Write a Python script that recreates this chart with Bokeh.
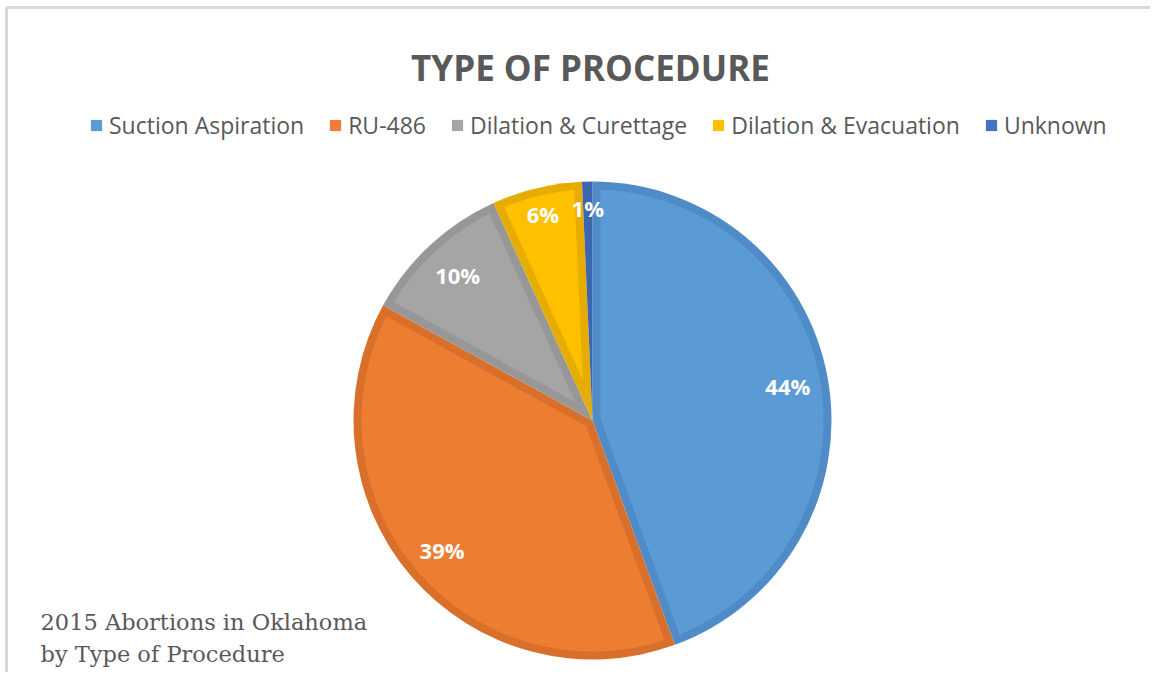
import numpy as np
from bokeh.plotting import figure
from bokeh.models import Range1d, Label, Legend, LegendItem
from bokeh.embed import file_html
from bokeh.resources import INLINE
from bokeh.core.properties import value

# ---- data ----
categories = ["Suction Aspiration", "RU-486", "Dilation & Curettage",
              "Dilation & Evacuation", "Unknown"]
shares = [44.4, 38.6, 10.2, 6.1, 0.7]
fill_colors = ["#5b9bd5", "#ed7d31", "#a5a5a5", "#ffc000", "#4472c4"]
edge_colors = ["#4f8bc6", "#d8702b", "#979797", "#e6ad00", "#3d66b0"]
title_text = "TYPE OF PROCEDURE"
note_lines = ["2015 Abortions in Oklahoma", "by Type of Procedure"]

# ---- layout ----
W, H = 1150, 672
cx, cy, R = 592, 252, 239
BORDER = 8

p = figure(width=W, height=H, x_range=Range1d(0, W), y_range=Range1d(0, H),
           output_backend="svg", toolbar_location=None, min_border=0,
           x_axis_location=None, y_axis_location=None)
p.grid.visible = False
p.outline_line_color = None
p.background_fill_color = "white"
p.border_fill_color = "white"

# frame lines (top and left)
p.segment(x0=[6, 6], y0=[0, H - 7], x1=[6, W], y1=[H - 7, H - 7],
          line_color="#d9d9d9", line_width=3)

vals = np.array(shares, dtype=float)
total = vals.sum()
cum = np.concatenate([[0.0], np.cumsum(vals)])
a_start = np.pi / 2 - 2 * np.pi * cum[:-1] / total
a_end = np.pi / 2 - 2 * np.pi * cum[1:] / total

# outer wedges in edge colour
p.wedge(x=[cx] * len(vals), y=[cy] * len(vals), radius=R,
        start_angle=list(a_start), end_angle=list(a_end), direction="clock",
        fill_color=edge_colors, line_color=None)

# inner inset patches in fill colour
xs, ys, cols = [], [], []
d = BORDER
for s, e, c in zip(a_start, a_end, fill_colors):
    th = s - e
    half = th / 2
    if th >= np.pi:
        continue
    h = d / np.sin(half)
    delta = np.arcsin(d / (R - d))
    if h >= R - d or th <= 2 * delta:
        continue
    m = (s + e) / 2
    arc = np.linspace(e + delta, s - delta, 80)
    px = [cx + h * np.cos(m)] + list(cx + (R - d) * np.cos(arc))
    py = [cy + h * np.sin(m)] + list(cy + (R - d) * np.sin(arc))
    xs.append(px)
    ys.append(py)
    cols.append(c)
p.patches(xs=xs, ys=ys, fill_color=cols, line_color=None)

# percentage labels
mids = (a_start + a_end) / 2
lab_r = np.where(vals >= 10, 0.83 * R, 0.89 * R)
lx = cx + lab_r * np.cos(mids)
ly = cy + lab_r * np.sin(mids)
p.text(x=list(lx), y=list(ly), text=[f"{v:.0f}%" for v in vals],
       text_align="center", text_baseline="middle",
       text_font=value("Open Sans"), text_font_style="bold",
       text_font_size="22px", text_color="white")

# title
p.add_layout(Label(x=590, y=605, text=title_text, text_align="center",
                   text_baseline="alphabetic", text_font="Open Sans",
                   text_font_style="bold", text_font_size="35px",
                   text_color="#595959"))

# note
for i, t in enumerate(note_lines):
    p.add_layout(Label(x=40, y=51 - 32 * i, text=t, text_align="left",
                       text_baseline="alphabetic", text_font="DejaVu Serif",
                       text_font_size="22.5px", text_color="#595959"))

# legend
items = []
for cat, c in zip(categories, fill_colors):
    r = p.rect(x=[-500], y=[-500], width=1, height=1, fill_color=c,
               line_color=None)
    items.append(LegendItem(label=cat, renderers=[r]))
legend = Legend(items=items, orientation="horizontal", location=(89, 531),
                margin=0, padding=0, spacing=24, glyph_width=14,
                glyph_height=14, label_standoff=6,
                label_text_font="Open Sans", label_text_font_size="23px",
                label_text_color="#595959", border_line_color=None,
                background_fill_alpha=0)
p.add_layout(legend)

open("out.html", "w").write(file_html(p, INLINE))
